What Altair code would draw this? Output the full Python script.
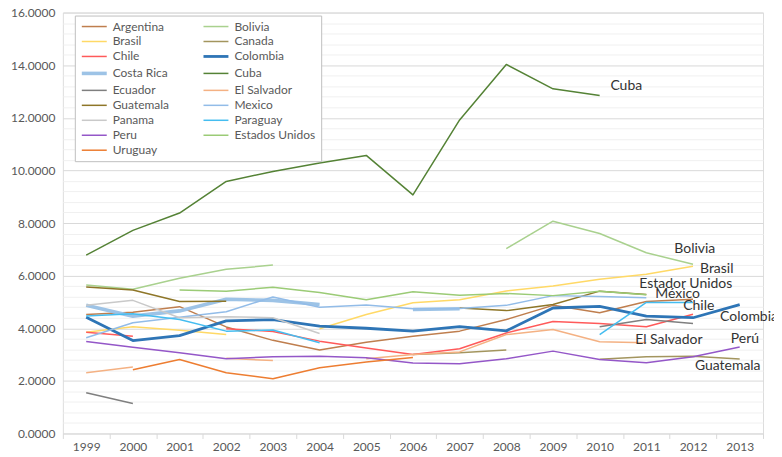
import altair as alt
import pandas as pd

years = list(range(1999, 2014))

countries = ["Argentina", "Bolivia", "Brasil", "Canada", "Chile", "Colombia",
             "Costa Rica", "Cuba", "Ecuador", "El Salvador", "Guatemala", "Mexico",
             "Panama", "Paraguay", "Peru", "Estados Unidos", "Uruguay"]

N = None
argentina = [4.52, 4.61, 4.82, 4.05, 3.54, 3.17, 3.47, 3.70, 3.89, 4.33, 4.87, 4.59, 5.02, 5.10, N]
bolivia = [5.64, 5.48, 5.90, 6.24, 6.40, N, N, N, N, 7.03, 8.07, 7.60, 6.87, 6.43, N]
brasil = [3.85, 4.06, 3.92, 3.76, N, 3.98, 4.52, 4.97, 5.08, 5.42, 5.61, 5.86, 6.05, 6.36, N]
canada = [N, N, N, N, N, N, N, 3.00, 3.07, 3.17, N, 2.82, 2.92, 2.94, 2.83]
chile = [3.85, 3.70, N, 3.98, 3.88, 3.51, 3.25, 3.00, 3.22, 3.82, 4.26, 4.18, 4.06, 4.53, N]
colombia = [4.42, 3.53, 3.72, 4.28, 4.33, 4.08, 4.00, 3.89, 4.06, 3.90, 4.77, 4.83, 4.46, 4.40, 4.90]
costa_rica = [4.87, 4.46, 4.66, 5.10, 5.06, 4.90, N, 4.71, 4.74, N, N, N, N, N, N]
cuba = [6.78, 7.72, 8.38, 9.58, 9.96, 10.28, 10.57, 9.07, 11.92, 14.03, 13.10, 12.85, N, N, N]
ecuador = [1.55, 1.14, N, N, N, N, N, N, N, N, N, 4.06, 4.33, 4.18, N]
el_salvador = [2.31, 2.53, N, 2.86, 2.77, N, 2.84, 3.00, 3.10, 3.76, 3.95, 3.49, 3.45, N, N]
guatemala = [5.57, 5.45, 5.02, 5.03, N, N, N, N, 4.77, 4.67, 4.90, 5.41, 5.28, N, N]
mexico = [3.64, 4.21, 4.42, 4.63, 5.19, 4.80, 4.88, 4.74, 4.75, 4.87, 5.24, 5.21, 5.16, N, N]
panama = [4.87, 5.06, 4.40, 4.44, 4.40, 3.80, N, N, N, N, N, N, N, N, N]
paraguay = [4.47, 4.55, 4.33, 3.89, 3.93, 3.45, N, N, N, N, N, 3.76, 4.98, 4.98, N]
peru = [3.50, 3.28, 3.07, 2.84, 2.92, 2.94, 2.88, 2.68, 2.65, 2.84, 3.13, 2.81, 2.69, 2.92, 3.29]
estados_unidos = [N, N, 5.45, 5.41, 5.56, 5.36, 5.08, 5.39, 5.25, 5.32, 5.24, 5.41, 5.27, N, N]
uruguay = [N, 2.42, 2.81, 2.31, 2.08, 2.50, 2.72, 2.89, N, N, N, N, N, N, N]

series = [argentina, bolivia, brasil, canada, chile, colombia, costa_rica, cuba,
          ecuador, el_salvador, guatemala, mexico, panama, paraguay, peru,
          estados_unidos, uruguay]

colors = ["#BF7E4E", "#A9D18E", "#FFD966", "#A3955E", "#FF5A5A", "#2E75B6",
          "#9DC3E6", "#548235", "#7F7F7F", "#F4B183", "#8E7628", "#92BCE8",
          "#C9C9C9", "#45BDF0", "#9457C8", "#9BCB76", "#ED7D31"]
widths = [1.5, 1.5, 1.5, 1.5, 1.5, 2.8, 3.6, 1.5, 1.5, 1.5, 1.5, 1.5,
          1.5, 1.5, 1.5, 1.5, 1.5]

label_text = ["Cuba", "Bolivia", "Brasil", "Estador Unidos", "México", "Chile",
              "Colombia", "El Salvador", "Perú", "Guatemala"]
label_x = [2010.23, 2011.60, 2012.15, 2010.85, 2011.19, 2011.79, 2012.58, 2010.76, 2012.81, 2012.04]
label_y = [13.19, 7.00, 6.27, 5.70, 5.29, 4.83, 4.41, 3.56, 3.59, 2.56]

# legend is filled column by column: reorder so it reads row by row (2 columns)
legend_order = countries[0::2] + countries[1::2]
col_map = dict(zip(countries, colors))
w_map = dict(zip(countries, widths))

rows = []
for name, vals in zip(countries, series):
    seg = 0
    prev = False
    for yr, v in zip(years, vals):
        if v is None:
            if prev:
                seg += 1
            prev = False
            continue
        rows.append({"country": name, "year": yr, "value": v, "seg": f"{name}-{seg}"})
        prev = True
df = pd.DataFrame(rows)
labels_df = pd.DataFrame({"text": label_text, "x": label_x, "y": label_y})

FONT = "Lato"
xscale = alt.Scale(domain=[1998.5, 2013.5], nice=False, zero=False)
yscale = alt.Scale(domain=[0, 16], nice=False)

major_y = [0, 2, 4, 6, 8, 10, 12, 14, 16]
minor_y = [round(i * 0.4, 1) for i in range(41) if i % 5 != 0]
bounds_x = [1998.5 + i for i in range(16)]

minor = alt.Chart(df).mark_line(opacity=0).encode(
    x=alt.X("year:Q", scale=xscale,
            axis=alt.Axis(orient="bottom", values=bounds_x, labels=False, grid=False,
                          ticks=True, tickSize=5, tickColor="#D9D9D9", domain=False, title=None)),
    y=alt.Y("value:Q", scale=yscale,
            axis=alt.Axis(orient="left", values=minor_y, labels=False, ticks=False,
                          domain=False, grid=True, gridColor="#F0F0F0", title=None)),
    detail="seg:N",
)

lines = alt.Chart(df).mark_line(strokeCap="butt", strokeJoin="round").encode(
    x=alt.X("year:Q", scale=xscale,
            axis=alt.Axis(orient="bottom", values=years, format="d", ticks=False, grid=False,
                          domain=False, labelFont=FONT, labelFontSize=12,
                          labelColor="#595959", labelPadding=8, title=None)),
    y=alt.Y("value:Q", scale=yscale,
            axis=alt.Axis(orient="left", values=major_y, format=".4f", ticks=False,
                          domain=False, grid=True, gridColor="#D9D9D9", labelFont=FONT,
                          labelFontSize=12, labelColor="#595959", labelPadding=8, title=None)),
    color=alt.Color("country:N",
                    scale=alt.Scale(domain=legend_order, range=[col_map[c] for c in legend_order]),
                    legend=alt.Legend(orient="none", legendX=12, legendY=3, columns=2,
                                      symbolType="M-1,0H5.25", symbolSize=64,
                                      symbolStrokeWidth=1.5, labelFont=FONT,
                                      labelFontSize=12, labelColor="#595959",
                                      labelOffset=21, strokeColor="#BFBFBF",
                                      fillColor="white", padding=5, rowPadding=3,
                                      columnPadding=28, title=None)),
    strokeWidth=alt.StrokeWidth("country:N",
                                scale=alt.Scale(type="ordinal", domain=legend_order,
                                                range=[w_map[c] for c in legend_order]),
                                legend=alt.Legend(title=None)),
    detail="seg:N",
    order="year:Q",
)

texts = alt.Chart(labels_df).mark_text(align="left", baseline="middle", font=FONT,
                                       fontSize=14, color="#333333").encode(
    x=alt.X("x:Q", scale=xscale, axis=None),
    y=alt.Y("y:Q", scale=yscale, axis=None),
    text="text:N",
)

chart = alt.layer(minor, lines, texts).resolve_axis(
    x="independent", y="independent"
).properties(
    width=702, height=422,
    autosize=alt.AutoSizeParams(type="none"),
    padding={"left": 55, "top": 4, "right": 11, "bottom": 20},
).configure_view(stroke="#D9D9D9").configure(background="white")

chart.save("out.html", embed_options={"renderer": "svg", "actions": False})
